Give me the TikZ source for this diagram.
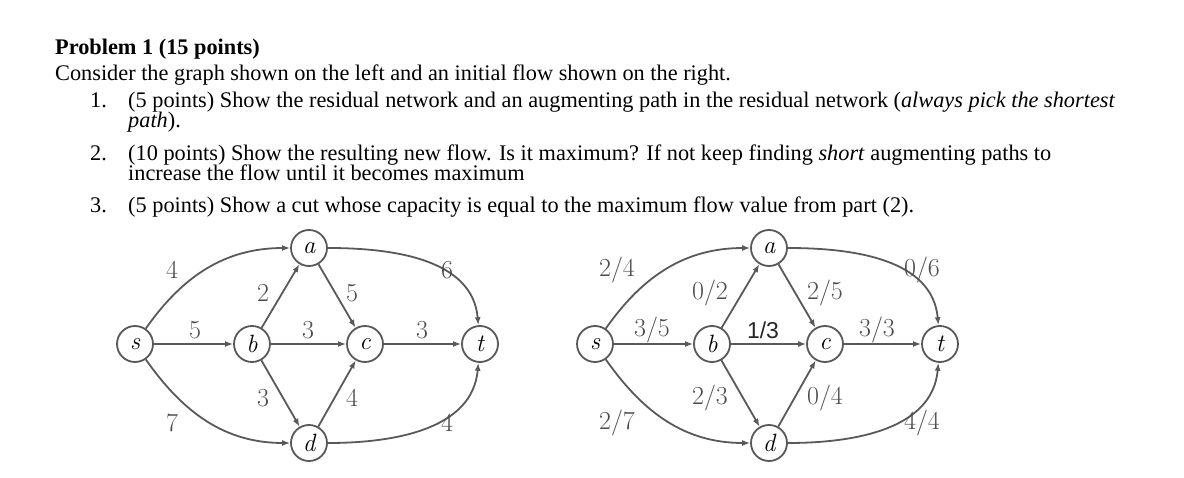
\documentclass[tikz,border=0pt]{standalone}
\usepackage{fontspec}
\setmainfont{Liberation Serif}
\setsansfont{Liberation Sans}
\newfontfamily\lmr{Latin Modern Roman}
\usetikzlibrary{arrows.meta}
\begin{document}
\begin{tikzpicture}[x=1pt,y=-1pt,
  txt/.style={anchor=base west,inner sep=0pt,font=\fontsize{22.3}{24}\selectfont},
  vtx/.style={circle,draw=black!65,line width=1.8pt,minimum size=36pt,inner sep=0pt,font=\lmr\fontsize{25}{25}\selectfont\itshape,fill=white},
  ed/.style={draw=black!65,line width=1.8pt,-{Latex[length=8pt,width=6pt]}},
  lab/.style={inner sep=0pt,text=black!70,font=\lmr\fontsize{26}{26}\selectfont}]
\useasboundingbox (0,0) rectangle (1184,478);
\node[txt] (t0) at (55,55) {\textbf{Problem 1 (15 points)}};
\node[txt] (t1) at (55,81) {Consider the graph shown on the left and an initial flow shown on the right.};
\node[txt] (n1) at (90,108) {1.};
\node[txt] (t2) at (128,108) {(5 points) Show the residual network and an augmenting path in the residual network (\textit{always pick the shortest}};
\node[txt] (t3) at (128,128) {\textit{path}).};
\node[txt] (n2) at (90,161) {2.};
\node[txt] (t4) at (128,161) {(10 points) Show the resulting new flow. Is it maximum? If not keep finding \textit{short} augmenting paths to};
\node[txt] (t5) at (128,181) {increase the flow until it becomes maximum};
\node[txt] (n3) at (90,213) {3.};
\node[txt] (t6) at (128,213) {(5 points) Show a cut whose capacity is equal to the maximum flow value from part (2).};

\foreach \p/\ox in {L/0,R/460}{
  \node[vtx] (s\p) at (135+\ox,344) {s};
  \node[vtx] (b\p) at (252+\ox,344) {b};
  \node[vtx] (c\p) at (365+\ox,344) {c};
  \node[vtx] (t\p) at (480+\ox,344) {t};
  \node[vtx] (a\p) at (309+\ox,248) {a};
  \node[vtx] (d\p) at (309+\ox,443) {d};
  \draw[ed] (s\p) to[out=55,in=180] (a\p);
  \draw[ed] (a\p) to[out=0,in=95] (t\p);
  \draw[ed] (s\p) to[out=-55,in=180] (d\p);
  \draw[ed] (d\p) to[out=0,in=-95] (t\p);
  \draw[ed] (s\p) -- (b\p);
  \draw[ed] (b\p) -- (c\p);
  \draw[ed] (c\p) -- (t\p);
  \draw[ed] (b\p) -- (a\p);
  \draw[ed] (a\p) -- (c\p);
  \draw[ed] (b\p) -- (d\p);
  \draw[ed] (d\p) -- (c\p);
}
\node[lab] (l1) at (172,270) {4};
\node[lab] (l2) at (263,293) {2};
\node[lab] (l3) at (352,293) {5};
\node[lab] (l4) at (447,270) {6};
\node[lab] (l5) at (195,330) {5};
\node[lab] (l6) at (308,330) {3};
\node[lab] (l7) at (422,330) {3};
\node[lab] (l8) at (263,398) {3};
\node[lab] (l9) at (352,398) {4};
\node[lab] (l10) at (172,423) {7};
\node[lab] (l11) at (447,423) {4};

\node[lab] (r1) at (617,270) {2/4};
\node[lab] (r2) at (710,293) {0/2};
\node[lab] (r3) at (825,293) {2/5};
\node[lab] (r4) at (922,270) {0/6};
\node[lab] (r5) at (652,330) {3/5};
\node[lab,text=black!85,font=\sffamily\fontsize{23}{23}\selectfont] (r6) at (763,330) {1/3};
\node[lab] (r7) at (877,330) {3/3};
\node[lab] (r8) at (710,398) {2/3};
\node[lab] (r9) at (825,398) {0/4};
\node[lab] (r10) at (617,423) {2/7};
\node[lab] (r11) at (922,423) {4/4};
\end{tikzpicture}
\end{document}
